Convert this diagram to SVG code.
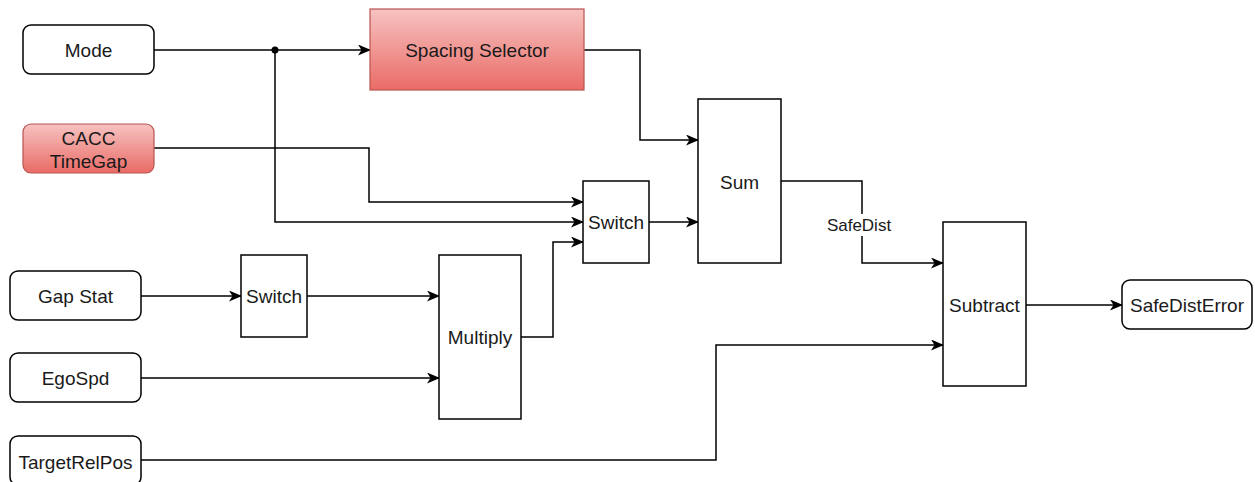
<svg xmlns="http://www.w3.org/2000/svg" width="1255" height="482" viewBox="0 0 1255 482">
  <style>
    .box { fill: #ffffff; stroke: #000000; stroke-width: 1.5; }
    .red { fill: url(#redFill); stroke: #b85450; stroke-width: 1.2; }
    .lbl { font-family: "Liberation Sans", Arial, sans-serif; font-size: 19px; fill: #1a1a1a; text-anchor: middle; dominant-baseline: central; }
    .edge-lbl { font-family: "Liberation Sans", Arial, sans-serif; font-size: 17px; fill: #1a1a1a; text-anchor: middle; dominant-baseline: central; }
    .wire { fill: none; stroke: #000000; stroke-width: 1.5; }
    .arrow { marker-end: url(#head); }
  </style>
  <defs>
    <linearGradient id="redFill" x1="0" y1="0" x2="0" y2="1">
      <stop offset="0" stop-color="#f6c3c1"/>
      <stop offset="1" stop-color="#ea6b66"/>
    </linearGradient>
    <marker id="head" viewBox="0 0 13 11" refX="12" refY="5.5" markerWidth="13" markerHeight="11" markerUnits="userSpaceOnUse" orient="auto">
      <path d="M0,0 L13,5.5 L0,11 L3.5,5.5 Z" fill="#000000"/>
    </marker>
  </defs>
  <rect width="1255" height="482" fill="#ffffff"/>

  <g id="connectors">
    <!-- Mode to Spacing Selector, with branch to Switch -->
    <path class="wire arrow" d="M154,50 H370"/>
    <path class="wire arrow" d="M275,50 V222 H583"/>
    <circle cx="275" cy="50" r="3.5" fill="#000000"/>
    <!-- CACC TimeGap to Switch -->
    <path class="wire arrow" d="M154,148 H369 V202 H583"/>
    <!-- Multiply to Switch -->
    <path class="wire arrow" d="M521,337 H553 V242 H583"/>
    <!-- Spacing Selector to Sum -->
    <path class="wire arrow" d="M584,50 H640 V140 H698"/>
    <!-- Switch to Sum -->
    <path class="wire arrow" d="M649,222 H698"/>
    <!-- Sum to Subtract (SafeDist) -->
    <path class="wire arrow" d="M781,181 H862 V263 H943"/>
    <rect x="822" y="214" width="74" height="22" fill="#ffffff"/>
    <text class="edge-lbl" x="859" y="225">SafeDist</text>
    <!-- Gap Stat to Switch to Multiply -->
    <path class="wire arrow" d="M141,296 H241"/>
    <path class="wire arrow" d="M307,296 H439"/>
    <!-- EgoSpd to Multiply -->
    <path class="wire arrow" d="M141,378 H439"/>
    <!-- TargetRelPos to Subtract -->
    <path class="wire arrow" d="M141,460 H716 V345 H943"/>
    <!-- Subtract to SafeDistError -->
    <path class="wire arrow" d="M1026,305 H1122"/>
  </g>

  <g id="mode">
    <rect class="box" x="23" y="25" width="131" height="49" rx="8"/>
    <text class="lbl" x="88.5" y="50">Mode</text>
  </g>
  <g id="cacc-timegap">
    <rect class="red" x="23" y="124" width="131" height="49" rx="8"/>
    <text class="lbl" x="88.5" y="138">CACC</text>
    <text class="lbl" x="88.5" y="161">TimeGap</text>
  </g>
  <g id="spacing-selector">
    <rect class="red" x="370" y="9" width="214" height="81"/>
    <text class="lbl" x="477" y="50">Spacing Selector</text>
  </g>
  <g id="switch-upper">
    <rect class="box" x="583" y="181" width="66" height="82"/>
    <text class="lbl" x="616" y="222">Switch</text>
  </g>
  <g id="sum">
    <rect class="box" x="698" y="99" width="83" height="164"/>
    <text class="lbl" x="739.5" y="182">Sum</text>
  </g>
  <g id="subtract">
    <rect class="box" x="943" y="222" width="83" height="164"/>
    <text class="lbl" x="984.5" y="305">Subtract</text>
  </g>
  <g id="safe-dist-error">
    <rect class="box" x="1122" y="280" width="130" height="49" rx="8"/>
    <text class="lbl" x="1187" y="305">SafeDistError</text>
  </g>
  <g id="gap-stat">
    <rect class="box" x="10" y="271" width="131" height="49" rx="8"/>
    <text class="lbl" x="75.5" y="296">Gap Stat</text>
  </g>
  <g id="switch-lower">
    <rect class="box" x="241" y="255" width="66" height="82"/>
    <text class="lbl" x="274" y="296">Switch</text>
  </g>
  <g id="multiply">
    <rect class="box" x="439" y="255" width="82" height="164"/>
    <text class="lbl" x="480" y="337">Multiply</text>
  </g>
  <g id="ego-spd">
    <rect class="box" x="10" y="353" width="131" height="49" rx="8"/>
    <text class="lbl" x="75.5" y="378">EgoSpd</text>
  </g>
  <g id="target-rel-pos">
    <rect class="box" x="10" y="436" width="131" height="49" rx="8"/>
    <text class="lbl" x="75.5" y="462">TargetRelPos</text>
  </g>
</svg>
